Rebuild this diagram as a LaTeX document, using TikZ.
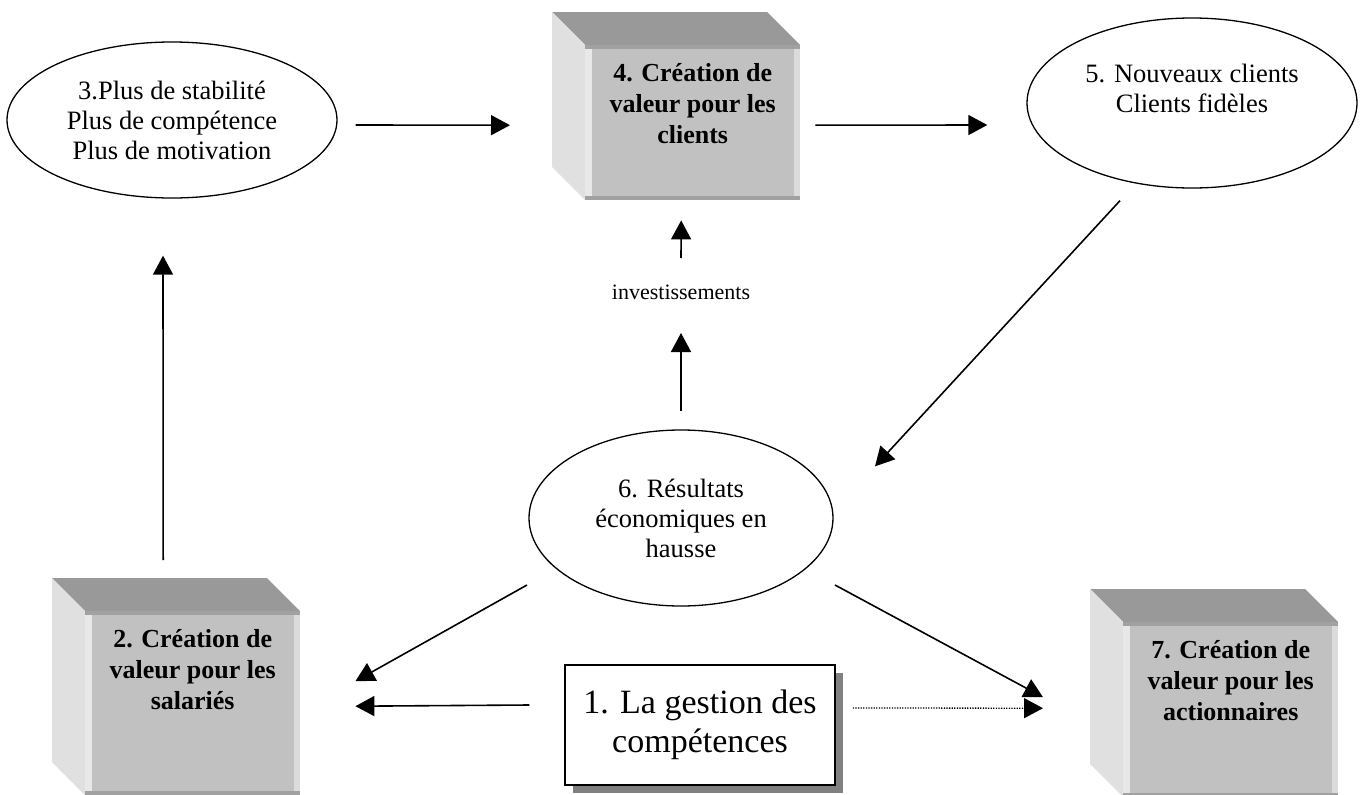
\documentclass[tikz,border=0pt]{standalone}
\usepackage{fontspec}
\setmainfont{Liberation Serif}
\usetikzlibrary{arrows.meta,shapes.geometric,shadows,calc}
\definecolor{topface}{gray}{0.6}
\definecolor{leftface}{gray}{0.88}
\definecolor{frontface}{gray}{0.755}
\definecolor{bandc}{gray}{0.63}
\definecolor{lstrip}{gray}{0.91}
\definecolor{rstrip}{gray}{0.86}
\tikzset{
  ell/.style={ellipse, draw, line width=1.3pt, inner sep=0pt, align=center,
    font=\fontsize{26.5}{30}\selectfont},
  front/.style={rectangle, fill=frontface, draw=none, inner sep=0pt, minimum width=215pt},
  boxtext/.style={align=center, inner sep=0pt, font=\bfseries\fontsize{26}{31}\selectfont},
  arr/.style={line width=1.6pt, -{Triangle[length=19pt,width=20pt]}},
  darr/.style={line width=1.3pt, dash pattern=on 1.3pt off 1.3pt, -{Triangle[length=19pt,width=20pt]}},
  gestbox/.style={rectangle, draw, line width=1.5pt, fill=white, minimum width=270pt,
    minimum height=120pt, align=center, font=\fontsize{34}{39}\selectfont,
    drop shadow={shadow xshift=8pt, shadow yshift=-8pt, fill=black!50, opacity=1}},
  invtext/.style={inner sep=0pt, font=\fontsize{22}{26}\selectfont}
}
% name, x0, y0, ybottom, text
\newcommand\cubebox[5]{%
  \fill[topface] (#2,#3) -- ++(215,0) -- ++(33,33) -- ++(-215,0) -- cycle;
  \fill[leftface] (#2,#3) -- ++(33,33) -- (#2+33,#4) -- (#2,#4-33) -- cycle;
  \node[front, minimum height={(#4-#3-33)*1pt}, anchor=north west] (#1) at (#2+33,#3+33) {};
  \fill[lstrip] (#1.north west) rectangle ([xshift=7pt]#1.south west);
  \fill[rstrip] ([xshift=-6pt]#1.north east) rectangle (#1.south east);
  \fill[bandc] (#1.north west) rectangle ([yshift=-4pt]#1.north east);
  \fill[bandc] (#1.south west) rectangle ([yshift=4pt]#1.south east);
  \node[boxtext, anchor=north] (#1t) at ([yshift=-18pt]#1.north) {#5};
}
\begin{document}
\begin{tikzpicture}[x=1pt,y=-1pt]
\useasboundingbox (0,0) rectangle (1363,795);

\cubebox{b4}{552}{12}{200}{4. Création de\\valeur pour les\\clients}
\cubebox{b2}{52}{578}{795}{2. Création de\\valeur pour les\\salariés}
\cubebox{b7}{1090}{589}{797}{7. Création de\\valeur pour les\\actionnaires}

\node[ell, minimum width=330pt, minimum height=156pt] (e3) at (172,120)
  {3.Plus de stabilité\\Plus de compétence\\Plus de motivation};
\node[ell, minimum width=330pt, minimum height=170pt] (e5) at (1192,103)
  {5. Nouveaux clients\\Clients fidèles\\[-10pt]\strut};
\node[ell, minimum width=304pt, minimum height=176pt] (e6) at (681,518)
  {6. Résultats\\économiques en\\hausse};

\node[gestbox] (b1) at (700,725) {1. La gestion des\\compétences};

\node[invtext] (inv) at (681,292) {investissements};

% connectors
\draw[arr] ([shift={(18,5)}]e3.east) -- ([shift={(-75,2.5)}]b4.west);
\draw[arr] ([shift={(15,2.5)}]b4.east) -- ([shift={(-39,22)}]e5.west);
\draw[arr] ([shift={(-72,12)}]e5.south) -- ([shift={(194,37)}]e6.north);
\draw[arr] ([shift={(0,-18)}]e6.north) -- ([shift={(0,41)}]inv.center);
\draw[arr] ([shift={(0,-34)}]inv.center) -- ([shift={(-11.5,20)}]b4.south);
\draw[arr] ([shift={(-29.5,-51)}]b2.north) -- ([shift={(-9,57)}]e3.south);
\draw[arr] ([shift={(-154,67)}]e6.center) -- ([shift={(55,-22)}]b2.east);
\draw[arr] ([shift={(-35,-20)}]b1.west) -- ([shift={(55,3)}]b2.east);
\draw[arr] ([shift={(154,67)}]e6.center) -- ([shift={(-80,-12.5)}]b7.west);
\draw[darr] ([shift={(17,-17)}]b1.east) -- ([shift={(-80,-1.5)}]b7.west);
\end{tikzpicture}
\end{document}
